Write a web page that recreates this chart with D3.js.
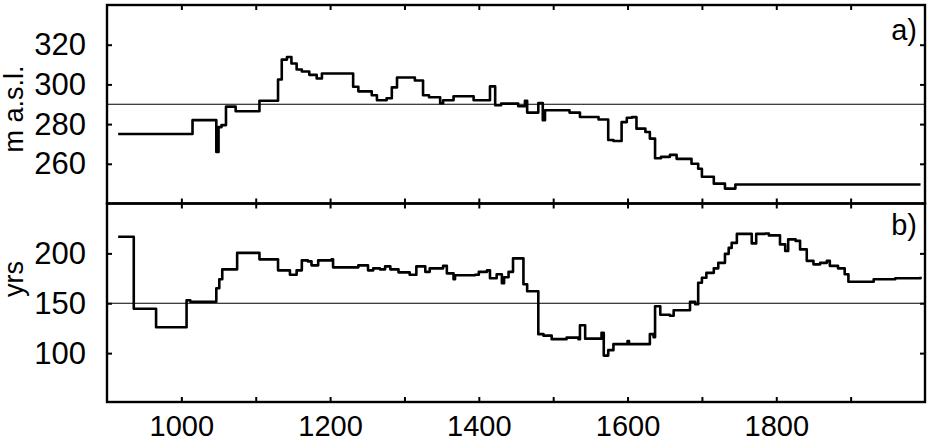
<!DOCTYPE html>
<html>
<head>
<meta charset="utf-8">
<script src="https://cdn.jsdelivr.net/npm/d3@7/dist/d3.min.js"></script>
<style>
  body { margin: 0; background: #fff; }
  text { font-family: "Liberation Sans", Arial, sans-serif; fill: #000; }
</style>
</head>
<body>
<script>
// Two stacked step series sharing one time axis

// panel a) elevation (m a.s.l.)
let yearsA = [915, 1015, 1047, 1050, 1054, 1060, 1073, 1105, 1130, 1135, 1142, 1148, 1155, 1162, 1172, 1182, 1189,
  1202, 1231, 1238, 1256, 1263, 1276, 1283, 1290, 1314, 1325, 1333, 1348, 1352, 1366, 1393, 1415, 1422, 1430,
  1442, 1453, 1462, 1465, 1480, 1486, 1489, 1522, 1536, 1561, 1574, 1581, 1592, 1599, 1606, 1612,
  1624, 1630, 1637, 1645, 1657, 1666, 1686, 1695, 1700, 1716, 1731, 1745, 1994];
let valuesA = [275, 282, 266, 278.5, 279.5, 288.8, 286.5, 291.8, 302.5, 312.5, 313.8, 310.5, 307.5, 306.5, 304.8, 303, 305.5,
  305.5, 298.8, 296.5, 294.5, 292, 293, 298.5, 303.5, 302, 294.5, 293.5, 290.5, 292, 294, 292, 299, 289.5, 290.3,
  290.3, 289, 291.8, 285.8, 290.6, 282, 287, 285.8, 283.6, 282.3, 272, 271.5, 281, 283.2, 283.5, 277.7,
  276, 272.7, 262.8, 263.5, 264.5, 262.5, 260, 257.5, 253.5, 250, 247.5, 249.6, 249.6];

// panel b) years
let yearsB = [915, 936, 966, 1007, 1012, 1047, 1051, 1055, 1075, 1105, 1130, 1146, 1155, 1162, 1170, 1175, 1184,
  1202, 1204, 1238, 1251, 1258, 1267, 1274, 1281, 1292, 1307, 1316, 1328, 1334, 1352, 1357, 1366, 1368, 1395,
  1400, 1411, 1415, 1424, 1431, 1434, 1440, 1446, 1460, 1465, 1480, 1487, 1498, 1518, 1534, 1536, 1543, 1565,
  1568, 1574, 1581, 1600, 1602, 1630, 1635, 1637, 1644, 1657, 1662, 1684, 1691, 1695, 1700, 1706, 1716, 1722,
  1731, 1736, 1740, 1747, 1767, 1773, 1785, 1790, 1805, 1812, 1816, 1826, 1832, 1841, 1850, 1859, 1868, 1872,
  1883, 1892, 1897, 1931, 1960, 1994];
let valuesB = [216.7, 144.5, 126, 153, 151.5, 165, 174, 184, 200.5, 194, 183, 178.5, 183, 193, 192, 188, 193,
  194, 186, 188, 183, 185, 184, 187, 184, 181, 178.5, 187, 181.5, 185, 187.5, 180, 174, 178, 178.5,
  181.5, 183, 175, 179, 170, 176, 181.5, 195, 169, 162, 119, 117.5, 114, 115.5, 114, 128, 114.5, 120.5,
  97.5, 103, 109, 112, 109, 119, 116, 147, 138.5, 137.5, 143, 151.5, 149, 170.5, 175.5, 180.5, 185, 190.5,
  199.5, 205.5, 210.5, 219.5, 210, 219.5, 220, 218, 209, 202.5, 214, 212.5, 204, 192.5, 189, 190.5, 192.5, 187.5,
  185, 179, 171.5, 174, 175, 176.5];

let xTicks = [1000, 1100, 1200, 1300, 1400, 1500, 1600, 1700, 1800, 1900];
let xLabels = [1000, 1200, 1400, 1600, 1800];
let yTicksA = [260, 280, 300, 320];
let yTicksB = [100, 150, 200];
let refA = 290;
let refB = 150;

let svgWidth = 934;
let svgHeight = 442;

let left = 107, right = 925;
let topA = 5, botA = 203.5;
let topB = 203.5, botB = 402;

let svg = d3.select("body")
            .append("svg")
            .attr("width", svgWidth)
            .attr("height", svgHeight);

let x = d3.scaleLinear().domain([900, 2000]).range([left, right]);
let yA = d3.scaleLinear().domain([240, 340]).range([botA, topA]);
let yB = d3.scaleLinear().domain([50, 250]).range([botB + 1, topB]);

function panel(y, top, bot, yTicks, ref, years, values, tag, tagY) {
    let g = svg.append("g");

    // reference line
    g.append("line")
     .attr("x1", left).attr("x2", right)
     .attr("y1", y(ref)).attr("y2", y(ref))
     .attr("stroke", "#000")
     .attr("stroke-width", 1);

    // step line
    let line = d3.line()
                 .x((d, i) => x(years[i]))
                 .y(d => y(d))
                 .curve(d3.curveStepAfter);
    g.append("path")
     .datum(values)
     .attr("d", line)
     .attr("fill", "none")
     .attr("stroke", "#000")
     .attr("stroke-width", 2.6)
     .attr("stroke-linejoin", "round");

    // inward ticks on all sides
    let axL = g.append("g").attr("transform", `translate(${left},0)`)
               .call(d3.axisLeft(y).tickValues(yTicks).tickSize(-5).tickPadding(21).tickSizeOuter(0));
    let axR = g.append("g").attr("transform", `translate(${right},0)`)
               .call(d3.axisRight(y).tickValues(yTicks).tickSize(-5).tickFormat("").tickSizeOuter(0));
    let axT = g.append("g").attr("transform", `translate(0,${top})`)
               .call(d3.axisTop(x).tickValues(xTicks).tickSize(-5).tickFormat("").tickSizeOuter(0));
    let axB = g.append("g").attr("transform", `translate(0,${bot})`)
               .call(d3.axisBottom(x).tickValues(xTicks).tickSize(-5).tickFormat("").tickSizeOuter(0));
    [axL, axR, axT, axB].forEach(a => {
        a.select(".domain").remove();
        a.selectAll("line").attr("stroke", "#000").attr("stroke-width", 2);
    });
    axL.selectAll("text").attr("font-size", "31px").attr("fill", "#000")
       .attr("font-family", "'Liberation Sans', Arial, sans-serif");

    // frame
    g.append("rect")
     .attr("x", left).attr("y", top)
     .attr("width", right - left).attr("height", bot - top)
     .attr("fill", "none")
     .attr("stroke", "#000")
     .attr("stroke-width", 2.4);

    g.append("text")
     .attr("x", 917).attr("y", tagY)
     .attr("text-anchor", "end")
     .attr("font-size", "29px")
     .text(tag);
}

panel(yA, topA, botA, yTicksA, refA, yearsA, valuesA, "a)", 40);
panel(yB, topB, botB, yTicksB, refB, yearsB, valuesB, "b)", 235);

// x labels
let xAxis = svg.append("g")
               .attr("transform", `translate(0,${botB})`)
               .call(d3.axisBottom(x).tickValues(xLabels).tickFormat(d3.format("d")).tickSize(0).tickPadding(13));
xAxis.select(".domain").remove();
xAxis.selectAll("text").attr("font-size", "29px").attr("fill", "#000")
     .attr("font-family", "'Liberation Sans', Arial, sans-serif");

// axis titles
svg.append("text")
   .attr("transform", "translate(23,109) rotate(-90)")
   .attr("text-anchor", "middle")
   .attr("font-size", "27px")
   .text("m a.s.l.");

svg.append("text")
   .attr("transform", "translate(23,279) rotate(-90)")
   .attr("text-anchor", "middle")
   .attr("font-size", "27px")
   .text("yrs");
</script>
</body>
</html>
